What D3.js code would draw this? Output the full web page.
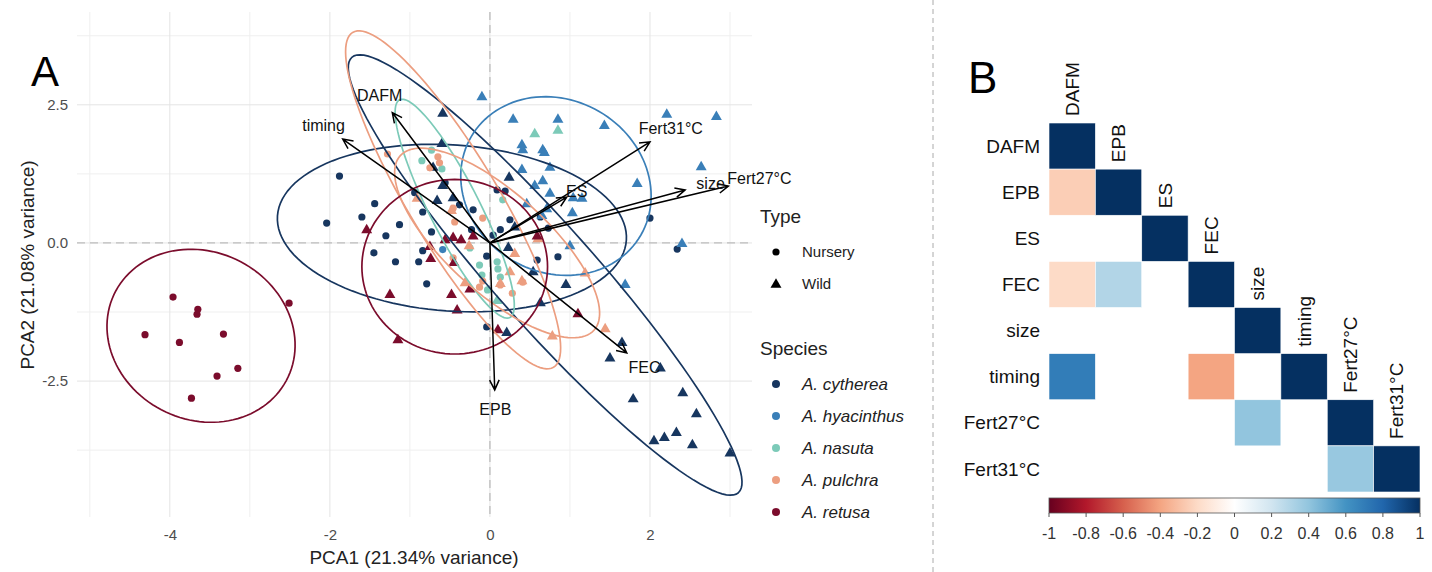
<!DOCTYPE html>
<html>
<head>
<meta charset="utf-8" />
<title>PCA and trait correlations</title>
<script src="https://cdn.jsdelivr.net/npm/d3@7"></script>
<style>
  html, body { margin: 0; padding: 0; background: #fff; }
  svg { display: block; font-family: "Liberation Sans", Arial, sans-serif; }
  .grid-major { stroke: #e4e4e4; stroke-width: 1; }
  .grid-minor { stroke: #efefef; stroke-width: 1; }
  .zero { stroke: #bdbdbd; stroke-width: 1.3; stroke-dasharray: 8,5; }
  .tick-label { fill: #4d4d4d; font-size: 15px; }
  .loading { stroke: #000; stroke-width: 1.5; fill: none; }
</style>
</head>
<body>
<div id="chart"></div>
<script>
// ---- data: PCA scores per species / type ----
const speciesNames = ["A. cytherea", "A. hyacinthus", "A. nasuta", "A. pulchra", "A. retusa"];
const speciesColors = ["#17365f", "#3a7fb8", "#7ccab8", "#ec9e80", "#7b0c2c"];
const typeNames = ["Nursery", "Wild"];

const cytNursery = [[-1.88,1.21],[-1.44,0.71],[-2.04,0.36],[-1.60,0.47],[-1.30,0.13],[-1.13,0.33],[-0.84,0.56],[-0.73,0.20],[-1.45,-0.18],[-1.18,-0.34],[-0.89,-0.34],[-0.79,-0.74],[-0.94,0.91],[2.0,0.45],[2.34,-0.11],[0.09,0.96],[0.19,0.94],[0.13,0.24],[0.04,0.14],[0.85,-0.25],[0.73,0.27],[-0.84,-0.14],[0.25,0.42],[0.63,0.47],[-0.04,-1.52],[-0.04,-0.24],[0.59,-0.31],[-0.38,0.69],[-0.21,0.60],[-0.23,0.24],[-0.56,1.09]];
const cytWild = [[-0.60,1.81],[-0.59,1.05],[-0.46,0.83],[-0.66,0.78],[0.24,1.20],[-0.59,2.36],[-0.71,1.38],[0.23,-0.07],[0.54,-0.51],[0.95,-0.74],[0.21,-1.61],[1.65,-1.79],[1.50,-2.07],[2.13,-2.25],[1.79,-2.81],[2.41,-2.70],[2.58,-3.08],[2.05,-3.57],[2.18,-3.51],[2.33,-3.42],[2.53,-3.64],[3.0,-3.79],[0.63,-1.07],[0.31,0.30]];
const hyaNursery = [[-0.59,-0.12]];
const hyaWild = [[-0.10,2.66],[0.29,2.25],[0.85,2.25],[1.43,2.14],[2.21,2.34],[2.83,2.30],[0.40,1.79],[0.41,1.70],[0.66,1.70],[0.68,1.65],[0.75,1.38],[2.64,1.39],[1.84,1.09],[0.40,1.34],[0.56,1.05],[0.66,1.14],[0.75,0.91],[1.04,0.83],[1.15,0.82],[1.03,0.56],[0.71,0.63],[0.65,0.51],[1.0,-0.04],[2.40,0.0],[1.69,-0.74],[0.46,0.72]];
const nasNursery = [[-0.85,1.49],[-0.60,1.34],[-0.73,1.68],[-0.13,-0.40],[0.10,-0.47],[-0.10,-0.58],[0.09,-0.34],[0.13,-0.62],[0.16,0.78],[-0.25,-0.09],[-0.03,-0.85]];
const nasWild = [[0.56,1.99],[0.85,2.05],[0.09,-1.03]];
const pulNursery = [[-1.28,1.61],[-0.65,1.56],[-0.63,1.45],[-0.75,1.36],[-0.46,0.63],[-0.09,0.45],[-0.44,0.38],[-0.46,-0.27],[-0.09,-0.69],[0.28,-0.91],[-0.13,-0.80],[0.13,-0.76],[0.41,-0.71]];
const pulWild = [[-0.91,0.82],[-0.48,0.60],[-0.26,-0.04],[0.31,-0.18],[0.25,-0.51],[-0.31,-0.71],[0.13,-0.72],[0.40,-0.67],[1.19,-0.53],[0.78,-1.67],[1.44,-1.54],[0.60,0.09]];
const retNursery = [[-3.96,-0.98],[-3.65,-1.20],[-3.66,-1.29],[-4.31,-1.66],[-3.88,-1.80],[-3.33,-1.65],[-2.51,-1.09],[-3.15,-2.27],[-3.41,-2.41],[-3.73,-2.81]];
const retWild = [[-1.54,0.25],[-1.25,-0.92],[-1.15,-1.74],[-0.75,-0.05],[-0.74,-0.27],[-0.45,-0.34],[-0.48,-0.92],[-0.41,-1.20],[-0.25,-0.82],[-0.56,0.07],[-0.46,0.11],[-0.36,0.07],[-0.21,0.14],[0.10,-1.56],[1.10,-1.27],[0.59,0.14]];

// confidence ellipses (centre and two conjugate semi-axes, in PC units)
const ellipseSpecies = [0, 0, 1, 2, 3, 3, 4, 4];
const ellipseCenter = [[-0.475,0.27],[0.69,-0.58],[0.825,1.03],[-0.44,0.62],[-0.46,0.78],[0.09,0.0],[-3.61,-1.68],[-0.44,-0.43]];
const ellipseAxisA = [[2.18,-0.22],[2.415,-3.94],[1.06,-0.89],[0.69,-1.97],[1.255,-3.03],[1.21,-1.58],[1.09,-0.74],[1.16,0]];
const ellipseAxisB = [[-0.07,-1.50],[-0.47,-0.60],[-0.54,-1.35],[-0.28,-0.21],[-0.48,-0.42],[-0.42,-0.67],[-0.44,-1.38],[0,-1.58]];

// loadings
const loadingNames = ["DAFM", "EPB", "ES", "FEC", "size", "timing", "Fert27°C", "Fert31°C"];
const loadingPC1 = [-1.22, 0.06, 0.96, 1.71, 2.44, -1.84, 2.98, 2.0];
const loadingPC2 = [2.36, -2.66, 0.83, -1.99, 0.96, 1.88, 1.03, 1.83];

const xTicks = [-4, -2, 0, 2];
const xMinor = [-5, -3, -1, 1, 3];
const yTicks = [-2.5, 0, 2.5];
const yMinor = [-3.75, -1.25, 1.25, 3.75];

// ---- data: correlation matrix (blank = not significant) ----
const corrVars = ["DAFM", "EPB", "ES", "FEC", "size", "timing", "Fert27°C", "Fert31°C"];
const corrMatrix = [
  [1],
  [-0.25, 1],
  [null, null, 1],
  [-0.2, 0.3, null, 1],
  [null, null, null, null, 1],
  [0.7, null, null, -0.4, null, 1],
  [null, null, null, null, 0.4, null, 1],
  [null, null, null, null, null, null, 0.38, 1]
];
const corrTicks = [-1, -0.8, -0.6, -0.4, -0.2, 0, 0.2, 0.4, 0.6, 0.8, 1];
const corrPalette = ["#67001F","#B2182B","#D6604D","#F4A582","#FDDBC7","#FFFFFF","#D1E5F0","#92C5DE","#4393C3","#2166AC","#053061"];

const svg = d3.select("#chart").append("svg")
    .attr("width", 1432)
    .attr("height", 572);

// ================= panel A =================
const x = d3.scaleLinear().domain([-5.16, 3.275]).range([77, 752]);
const y = d3.scaleLinear().domain([-4.96, 4.18]).range([517, 12]);

const gA = svg.append("g");
gA.append("clipPath").attr("id", "clipA")
  .append("rect").attr("x", 77).attr("y", 12).attr("width", 675).attr("height", 505);

gA.selectAll(".gxm").data(xMinor).enter().append("line")
    .attr("class", "grid-minor")
    .attr("x1", d => x(d)).attr("x2", d => x(d)).attr("y1", 12).attr("y2", 517);
gA.selectAll(".gym").data(yMinor).enter().append("line")
    .attr("class", "grid-minor")
    .attr("y1", d => y(d)).attr("y2", d => y(d)).attr("x1", 77).attr("x2", 752);
gA.selectAll(".gx").data(xTicks).enter().append("line")
    .attr("class", "grid-major")
    .attr("x1", d => x(d)).attr("x2", d => x(d)).attr("y1", 12).attr("y2", 517);
gA.selectAll(".gy").data(yTicks).enter().append("line")
    .attr("class", "grid-major")
    .attr("y1", d => y(d)).attr("y2", d => y(d)).attr("x1", 77).attr("x2", 752);

gA.append("line").attr("class", "zero")
    .attr("x1", x(0)).attr("x2", x(0)).attr("y1", 12).attr("y2", 517);
gA.append("line").attr("class", "zero")
    .attr("y1", y(0)).attr("y2", y(0)).attr("x1", 77).attr("x2", 752);

// axes (labels only, like theme_minimal)
const xAxis = gA.append("g").attr("transform", "translate(0,523)")
    .call(d3.axisBottom(x).tickValues(xTicks).tickSize(0).tickFormat(d => String(d)));
const yAxis = gA.append("g").attr("transform", "translate(71,0)")
    .call(d3.axisLeft(y).tickValues(yTicks).tickSize(0).tickFormat(d => d.toFixed(1)));
[xAxis, yAxis].forEach(a => {
  a.select(".domain").remove();
  a.selectAll("text").attr("class", "tick-label").attr("font-size", null).attr("font-family", null);
});
xAxis.selectAll("text").attr("dy", "0.9em");

gA.append("text").attr("x", 414).attr("y", 564).attr("text-anchor", "middle")
    .attr("font-size", 19).attr("fill", "#222").text("PCA1 (21.34% variance)");
gA.append("text").attr("transform", "translate(27,265) rotate(-90)").attr("text-anchor", "middle")
    .attr("font-size", 19).attr("fill", "#222").attr("dy", "0.35em").text("PCA2 (21.08% variance)");
gA.append("text").attr("x", 31).attr("y", 86).attr("font-size", 42).attr("fill", "#000").text("A");

// points
const groups = [
  [cytNursery, 0, 0], [cytWild, 0, 1], [hyaNursery, 1, 0], [hyaWild, 1, 1],
  [nasNursery, 2, 0], [nasWild, 2, 1], [pulNursery, 3, 0], [pulWild, 3, 1],
  [retNursery, 4, 0], [retWild, 4, 1]
];
const tri = d3.symbol().type(d3.symbolTriangle).size(52);
const plot = gA.append("g").attr("clip-path", "url(#clipA)");
groups.forEach(([pts, s, t]) => {
  if (t === 0) {
    plot.append("g").selectAll("circle").data(pts).enter().append("circle")
        .attr("cx", d => x(d[0])).attr("cy", d => y(d[1])).attr("r", 3.6)
        .attr("fill", speciesColors[s]);
  } else {
    plot.append("g").selectAll("path").data(pts).enter().append("path")
        .attr("d", tri)
        .attr("transform", d => `translate(${x(d[0])},${y(d[1]) + 1})`)
        .attr("fill", speciesColors[s]);
  }
});

// ellipses
const ellipseLine = d3.line().curve(d3.curveLinearClosed);
ellipseCenter.forEach((c, i) => {
  const A = ellipseAxisA[i], B = ellipseAxisB[i];
  const pts = d3.range(120).map(k => {
    const t = k / 120 * 2 * Math.PI;
    return [x(c[0] + Math.cos(t) * A[0] + Math.sin(t) * B[0]),
            y(c[1] + Math.cos(t) * A[1] + Math.sin(t) * B[1])];
  });
  plot.append("path").attr("d", ellipseLine(pts))
      .attr("fill", "none").attr("stroke", speciesColors[ellipseSpecies[i]])
      .attr("stroke-width", 1.7);
});

// loading arrows
function arrowPath(x0, y0, x1, y1) {
  const ang = Math.atan2(y1 - y0, x1 - x0), len = 11, spread = Math.PI / 7;
  const ax = x1 - len * Math.cos(ang - spread), ay = y1 - len * Math.sin(ang - spread);
  const bx = x1 - len * Math.cos(ang + spread), by = y1 - len * Math.sin(ang + spread);
  return `M${x0},${y0}L${x1},${y1}M${ax},${ay}L${x1},${y1}L${bx},${by}`;
}
loadingNames.forEach((name, i) => {
  gA.append("path").attr("class", "loading")
      .attr("d", arrowPath(x(0), y(0), x(loadingPC1[i]), y(loadingPC2[i])));
});
loadingNames.forEach((name, i) => {
  gA.append("text")
      .attr("x", x(loadingPC1[i] * 1.13)).attr("y", y(loadingPC2[i] * 1.13))
      .attr("text-anchor", "middle").attr("dy", "0.35em")
      .attr("font-size", 16).attr("fill", "#111").text(name);
});

// legend
const leg = svg.append("g");
leg.append("text").attr("x", 760).attr("y", 223).attr("font-size", 19).attr("fill", "#222").text("Type");
typeNames.forEach((t, i) => {
  const cy = 252 + i * 31.5;
  if (i === 0) leg.append("circle").attr("cx", 776).attr("cy", cy).attr("r", 3.6).attr("fill", "#000");
  else leg.append("path").attr("d", tri).attr("transform", `translate(776,${cy + 1})`).attr("fill", "#000");
  leg.append("text").attr("x", 802).attr("y", cy).attr("dy", "0.35em").attr("font-size", 15).attr("fill", "#222").text(t);
});
leg.append("text").attr("x", 760).attr("y", 355).attr("font-size", 19).attr("fill", "#222").text("Species");
speciesNames.forEach((s, i) => {
  const cy = 384 + i * 32;
  leg.append("circle").attr("cx", 776).attr("cy", cy).attr("r", 4).attr("fill", speciesColors[i]);
  leg.append("text").attr("x", 802).attr("y", cy).attr("dy", "0.35em").attr("font-size", 17)
      .attr("font-style", "italic").attr("fill", "#222").text(s);
});

// divider
svg.append("line").attr("x1", 933).attr("x2", 933).attr("y1", 0).attr("y2", 572)
    .attr("stroke", "#aaa").attr("stroke-width", 1).attr("stroke-dasharray", "5,4");

// ================= panel B =================
const gB = svg.append("g");
const cx = d3.scaleBand().domain(corrVars).range([1049, 1420]);
const cy = d3.scaleBand().domain(corrVars).range([123, 492]);
const colour = d3.scaleLinear().domain(corrTicks).range(corrPalette);

gB.append("text").attr("x", 968).attr("y", 93).attr("font-size", 44).attr("fill", "#000").text("B");

const cells = [];
corrMatrix.forEach((row, r) => row.forEach((v, c) => {
  if (v !== null) cells.push({ r: corrVars[r], c: corrVars[c], v: v });
}));
gB.selectAll("rect.cell").data(cells).enter().append("rect")
    .attr("class", "cell")
    .attr("x", d => cx(d.c)).attr("y", d => cy(d.r))
    .attr("width", cx.bandwidth()).attr("height", cy.bandwidth())
    .attr("fill", d => colour(d.v))
    .attr("stroke", "#fff").attr("stroke-width", 0.6);

gB.selectAll("text.row").data(corrVars).enter().append("text")
    .attr("class", "row")
    .attr("x", 1040).attr("y", d => cy(d) + cy.bandwidth() / 2)
    .attr("dy", "0.35em").attr("text-anchor", "end")
    .attr("font-size", 19).attr("fill", "#111").text(d => d);
gB.selectAll("text.col").data(corrVars).enter().append("text")
    .attr("class", "col")
    .attr("transform", d => `translate(${cx(d) + cx.bandwidth() / 2},${cy(d) - 7}) rotate(-90)`)
    .attr("dy", "0.35em").attr("text-anchor", "start")
    .attr("font-size", 19).attr("fill", "#111").text(d => d);

// colour bar
const grad = svg.append("defs").append("linearGradient").attr("id", "cbar");
corrTicks.forEach((t, i) => {
  grad.append("stop").attr("offset", (i / (corrTicks.length - 1) * 100) + "%").attr("stop-color", corrPalette[i]);
});
const cbx = d3.scaleLinear().domain([-1, 1]).range([1049, 1420]);
gB.append("rect").attr("x", cbx(-1)).attr("y", 498).attr("width", cbx(1) - cbx(-1)).attr("height", 15)
    .attr("fill", "url(#cbar)").attr("stroke", "#555").attr("stroke-width", 0.8);
gB.selectAll("line.cbt").data(corrTicks).enter().append("line")
    .attr("class", "cbt")
    .attr("x1", d => cbx(d)).attr("x2", d => cbx(d)).attr("y1", 513).attr("y2", 517)
    .attr("stroke", "#555").attr("stroke-width", 1);
gB.selectAll("text.cbl").data(corrTicks).enter().append("text")
    .attr("class", "cbl")
    .attr("x", d => cbx(d)).attr("y", 539).attr("text-anchor", "middle")
    .attr("font-size", 16).attr("fill", "#333")
    .text(d => String(+d.toFixed(1)));
</script>
</body>
</html>
